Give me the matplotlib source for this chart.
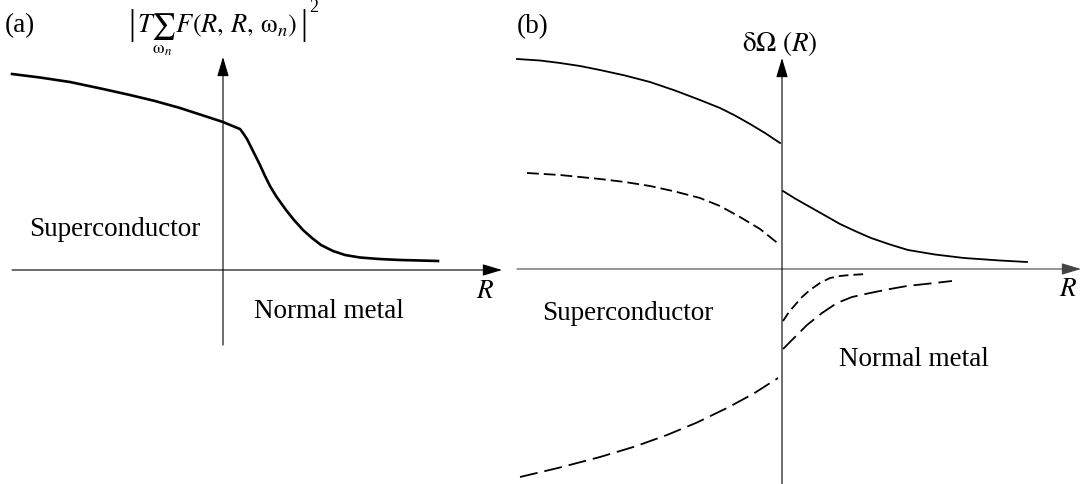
import matplotlib
matplotlib.use("Agg")
import matplotlib.pyplot as plt

plt.rcParams['font.family'] = ['Liberation Serif', 'DejaVu Serif']
plt.rcParams['mathtext.fontset'] = 'stix'
plt.rcParams['lines.scale_dashes'] = False

# ---- panel (a): |T sum F(R,R,w_n)|^2 across the interface (arbitrary units)
a_r = [-2.11, -1.83, -1.53, -1.20, -0.93, -0.68, -0.43, -0.23, 0.00, 0.12,
       0.17, 0.20, 0.24, 0.28, 0.32, 0.37, 0.42, 0.47, 0.53, 0.58,
       0.63, 0.71, 0.80, 0.89, 0.98, 1.10, 1.22, 1.37, 1.56, 1.77,
       1.97, 2.15]
a_f = [1.96, 1.925, 1.88, 1.81, 1.75, 1.69, 1.62, 1.555, 1.48, 1.43,
       1.41, 1.37, 1.31, 1.23, 1.15, 1.05, 0.94, 0.84, 0.74, 0.67,
       0.60, 0.50, 0.40, 0.32, 0.25, 0.19, 0.15, 0.125, 0.11, 0.10,
       0.095, 0.09]

# ---- panel (b): delta Omega(R)
b_sol_left_r = [-2.65, -2.42, -2.22, -2.02, -1.82, -1.57, -1.32, -1.07, -0.82,
                -0.62, -0.47, -0.32, -0.17, -0.02]
b_sol_left_v = [2.10, 2.085, 2.06, 2.03, 1.99, 1.935, 1.87, 1.785, 1.69,
                1.61, 1.535, 1.45, 1.36, 1.26]
b_sol_right_r = [0.01, 0.13, 0.28, 0.43, 0.58, 0.73, 0.89, 1.08, 1.26,
                 1.53, 1.82, 2.18, 2.45]
b_sol_right_v = [0.78, 0.705, 0.62, 0.535, 0.45, 0.38, 0.31, 0.245, 0.19,
                 0.145, 0.11, 0.085, 0.07]

b_dash_left_r = [-2.55, -2.22, -1.82, -1.57, -1.32, -1.07, -0.82, -0.62, -0.42, -0.22, -0.02]
b_dash_left_v = [0.96, 0.94, 0.90, 0.87, 0.83, 0.775, 0.71, 0.63, 0.52, 0.40, 0.24]

b_short_right_r = [0.01, 0.07, 0.13, 0.20, 0.28, 0.38, 0.48, 0.58, 0.68, 0.85]
b_short_right_v = [-0.52, -0.43, -0.36, -0.28, -0.21, -0.14, -0.09, -0.07, -0.06, -0.05]

b_long_right_r = [0.01, 0.13, 0.25, 0.40, 0.55, 0.70, 0.88, 1.08, 1.25, 1.48, 1.70]
b_long_right_v = [-0.80, -0.68, -0.56, -0.44, -0.34, -0.28, -0.24, -0.20, -0.17, -0.145, -0.12]

b_long_left_r = [-2.62, -2.22, -1.82, -1.47, -1.15, -0.85, -0.55, -0.29, -0.04]
b_long_left_v = [-2.08, -1.985, -1.88, -1.775, -1.66, -1.535, -1.39, -1.25, -1.09]

W, H = 1082, 484
fig = plt.figure(figsize=(W / 100, H / 100), dpi=100)

FS = 19.5
arrow = dict(arrowstyle='-|>,head_length=0.6,head_width=0.18', mutation_scale=20,
             shrinkA=0, shrinkB=0, lw=0.8, color='black')


def axis_arrow(ax, start, tip, color='black'):
    props = dict(arrow)
    props['color'] = color
    ax.annotate('', xy=tip, xytext=start, arrowprops=props, annotation_clip=False)


# ---- (a)
ax = fig.add_axes([0, 0, 510 / W, 1])
ax.set_xlim(-2.23, 2.87)
ax.set_ylim(-2.14, 2.70)
ax.axis('off')

axis_arrow(ax, (-2.11, 0), (2.79, 0))
axis_arrow(ax, (0, -0.75), (0, 2.13))
ax.plot(a_r, a_f, color='black', lw=1.9, solid_joinstyle='round')

ax.text(-2.03, 2.44, '(a)', fontsize=FS, ha='center', va='center')
# |T sum F(R, R, w_n)|^2 : bars as plain text so they stay thin
ax.text(-0.06, 2.37, r'$T\sum_{\mathrm{\omega}_n}\,F(R,\,R,\,\mathrm{\omega}_n)$',
        fontsize=19, ha='center', va='baseline')
ax.text(-0.91, 2.44, '|', fontsize=25, ha='center', va='center')
ax.text(0.81, 2.44, '|', fontsize=25, ha='center', va='center')
ax.text(0.905, 2.62, '2', fontsize=13, ha='center', va='center')
ax.text(-1.08, 0.40, 'Superconductor', fontsize=FS, ha='center', va='center')
ax.text(1.06, -0.42, 'Normal metal', fontsize=FS, ha='center', va='center')
ax.text(2.62, -0.22, r'$R$', fontsize=FS, ha='center', va='center')

# ---- (b)
bx = fig.add_axes([510 / W, 0, (W - 510) / W, 1])
bx.set_xlim(-2.72, 3.00)
bx.set_ylim(-2.15, 2.69)
bx.axis('off')

axis_arrow(bx, (-2.65, 0), (2.99, 0), color='#444444')
axis_arrow(bx, (0, -2.15), (0, 2.11))

bx.plot(b_sol_left_r, b_sol_left_v, color='black', lw=1.3)
bx.plot(b_sol_right_r, b_sol_right_v, color='black', lw=1.3)
bx.plot(b_dash_left_r, b_dash_left_v, color='black', lw=1.3, dashes=(8.5, 3.6))
bx.plot(b_short_right_r, b_short_right_v, color='black', lw=1.3, dashes=(7, 3.6))
bx.plot(b_long_right_r, b_long_right_v, color='black', lw=1.3, dashes=(13, 5))
bx.plot(b_long_left_r, b_long_left_v, color='black', lw=1.3, dashes=(13, 5))

bx.text(-2.49, 2.42, '(b)', fontsize=FS, ha='center', va='center')
bx.text(-0.02, 2.26, r'$\mathrm{\delta\Omega}\ (R)$', fontsize=FS, ha='center', va='center')
bx.text(-1.54, -0.45, 'Superconductor', fontsize=FS, ha='center', va='center')
bx.text(1.32, -0.90, 'Normal metal', fontsize=FS, ha='center', va='center')
bx.text(2.86, -0.21, r'$R$', fontsize=FS, ha='center', va='center')

fig.savefig('out.png', dpi=100)
